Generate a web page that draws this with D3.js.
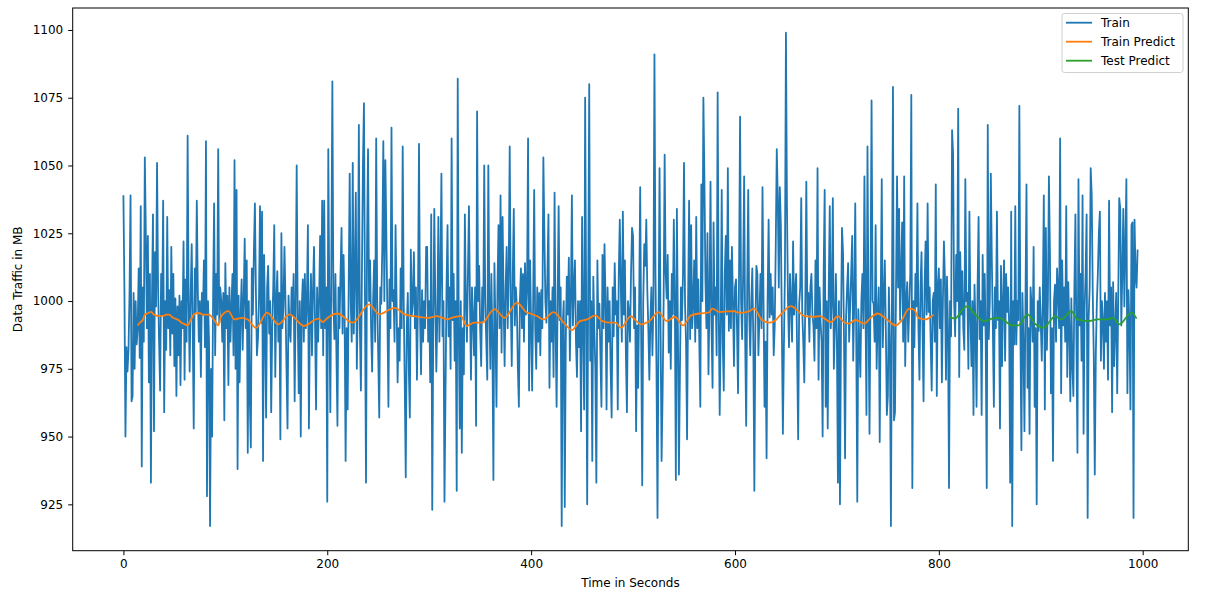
<!DOCTYPE html>
<html>
<head>
<meta charset="utf-8">
<script src="https://cdn.jsdelivr.net/npm/d3@7"></script>
<style>
  html, body { margin: 0; padding: 0; background: #fff; }
  svg { display: block; }
  text { font-family: "DejaVu Sans", sans-serif; fill: #000; }
</style>
</head>
<body>
<svg id="chart" width="1221" height="595"></svg>
<script>
// ---- data ----
const trainValues = [
1039,1004,950,983,974,982,1003,1039,963,965,
1003,975,1000,984,990,1012,979,1035,939,1005,
985,1053,1025,990,1024,970,1010,933,1000,1032,
952,1018,998,1051,1005,985,967,1010,995,1037,
959,1000,982,1031,990,1004,980,1020,988,1010,
976,1001,965,998,980,1002,969,1000,990,1022,
971,1008,985,1061,1000,974,1003,1021,990,953,
1012,996,1037,1004,985,1000,972,1003,995,1015,
983,1059,928,1000,985,917,975,950,1002,1036,
980,1010,995,1056,992,1005,
1000,985,1003,956,1014,990,1002,969,1005,985,
998,1010,980,1052,975,1041,938,1002,970,995,
1008,982,1000,1023,990,1015,944,1000,964,946,
1012,995,1018,1036,1003,980,986,1000,1035,992,
1033,941,1017,990,957,1005,1013,988,1000,959,
990,1005,1028,972,1000,1011,985,1003,949,1025,
990,998,1020,1000,975,953,1002,990,985,1005,
995,1010,963,1000,1050,995,966,1000,950,998,
1008,985,1010,990,1000,1028,953,995,1010,980,
1004,1020,992,960,1005,985,1000,1024,990,1037,
980,
1037,990,1005,926,1056,1000,959,1015,1081,1000,
986,1010,980,954,1005,990,1010,1027,988,1017,
995,941,990,960,1005,1047,1000,985,1051,988,
1010,1040,975,1000,1065,990,967,1010,1050,1073,
1000,933,1020,1056,1000,1015,990,974,1000,1015,
985,1060,1000,980,957,1005,999,1020,1059,1000,
1052,1024,995,961,1008,990,1064,1000,1004,985,
1028,1000,970,990,978,1012,990,1057,1000,970,
935,990,1003,975,957,1019,995,1000,1018,990,
1005,971,1000,1058,995,973,1004,985,1000,990,
1020,
1020,985,1000,970,1032,923,990,1034,1000,974,
995,1031,985,1010,1047,987,1000,926,966,1005,
1028,987,1005,975,1060,993,1010,978,1000,930,
1082,990,953,1000,944,990,973,1032,1000,985,
1010,1035,1000,971,1005,994,980,1005,954,1070,
1000,1013,990,976,1005,993,1050,1000,985,971,
1050,1000,975,1010,985,934,1014,990,961,1005,
1028,990,1039,981,1031,1000,976,1005,1020,990,
1010,1057,1000,976,1010,1034,991,1005,998,975,
961,1000,1012,990,1010,985,1014,995,1005,1060,
967,
1015,990,967,1000,1041,990,975,1005,985,1003,
980,1004,990,1053,1025,1000,992,1010,1032,968,
1000,985,1005,972,1040,990,961,1000,1035,993,
1005,917,991,1000,924,985,1009,995,1016,978,
1000,1039,991,1005,1015,985,972,1000,983,1000,
952,1031,990,960,1075,1000,925,1005,1080,978,
1000,941,1009,990,975,933,1015,990,999,980,
961,1017,990,1021,1000,960,1005,985,1000,975,
957,1005,987,1014,995,1000,960,1010,1030,1005,
985,1033,995,1015,980,959,1000,996,985,1010,
1027,
1024,990,1005,952,991,968,1000,1042,985,932,
1000,1021,1013,1030,1004,990,971,993,1005,980,
1000,1091,1010,975,920,990,1049,990,941,966,
1000,1054,1010,1001,1017,981,1000,975,1010,995,
1030,1000,934,1034,990,936,974,1005,993,1010,
1051,999,985,949,1000,1037,986,1028,990,999,
1015,985,1031,990,1008,985,961,1043,1000,1075,
1046,1008,990,1025,973,1000,1044,990,968,1029,
995,1005,980,1077,1000,958,990,1041,985,967,
1010,1024,995,1049,989,1015,990,1020,1000,976,
1005,
1008,990,966,1010,1068,1000,986,1010,1046,986,
954,1005,1041,995,980,1000,1012,985,930,990,
1013,1010,980,995,1010,990,1042,1000,961,985,
942,1000,1030,994,1010,995,1005,980,991,1020,
1056,1038,1005,1042,1028,990,951,983,1010,1099,
1035,1000,983,1010,999,985,1022,995,1003,1010,
980,949,999,1005,1038,996,985,970,1000,1044,
995,1003,985,1005,1010,995,991,978,1015,990,
1049,971,1005,992,985,950,1010,1041,961,1000,
953,1005,1035,990,1000,1038,975,990,1010,985,
933,
1000,925,990,1027,1018,985,942,994,1005,1014,
985,998,1010,1024,978,1000,1036,985,926,997,
985,972,1000,1010,990,1046,1000,958,1057,995,
951,1005,1074,1000,999,985,1028,975,994,1005,
948,1000,1045,983,1000,1015,990,958,965,1005,
985,917,1000,1079,956,959,1005,1046,1005,1034,
993,1010,1029,985,1046,976,1000,1007,985,998,
1010,1076,931,1000,983,1010,998,1036,990,971,
1005,1018,990,963,1005,1022,995,1036,996,1005,
985,967,1000,1003,985,1043,965,1005,1012,990,
1008,
970,1000,1022,1008,971,1009,990,931,1000,987,
1063,1054,1000,987,1017,1000,1071,972,1018,995,
1011,990,982,1045,1000,1003,975,1033,995,976,
1000,958,1006,990,961,1005,1031,986,1000,958,
1017,991,1010,985,931,1065,986,1000,1047,1015,
990,961,1005,990,1033,993,1000,953,1013,976,
1000,1015,978,1010,996,1005,991,933,1033,917,
1000,984,1035,984,1000,993,1072,990,945,1003,
985,952,1000,1043,968,990,951,1005,998,985,
1020,961,990,925,1000,989,1005,992,978,1000,
1039,
960,1027,982,1000,1046,1018,966,990,941,1000,
1006,985,1012,1003,990,1060,966,1015,991,1005,
985,1035,972,1007,990,963,1001,976,965,1005,
1032,985,944,1045,991,1010,978,1039,951,997,
1010,1032,920,994,1005,1049,1039,1003,980,936,
980,999,1010,1025,1033,978,1000,993,975,1003,
985,1000,971,1037,991,1005,959,1007,976,990,
1003,966,1000,1038,1034,991,1010,1034,998,1020,
1045,966,1004,990,960,1028,1029,920,1030,1010,
1005,1019
];

const trainPredictT = [14,16,19,21,24,27,30,33,36,39,42,45,48,51,54,57,60,63,66,69,72,75,78,81,84,87,90,93,
  96,103,109,116,122,130,141,152,163,177,191,196,
  197,210,225,241,251,266,276,285,
  298,308,318,322,331,337,344,352,364,374,386,396,
  399,406,412,422,432,440,448,455,463,470,478,483,488,498,
  500,508,516,525,533,541,549,557,565,574,578,585,592,600,
  601,608,614,619,626,634,640,645,655,662,668,676,683,688,694,701,
  702,707,712,718,727,733,740,748,758,763,771,776,780,787,794,795];
const trainPredictV = [991,992,993,995,995.5,996,995,994.5,994.5,994.5,995,995,994,993.5,993,992,991.5,991,993,995,995.5,995.5,995,995,995,994,992.5,991,
  994.4,996.3,993.2,993.8,993.2,990.1,995.7,991.4,995.1,990.8,993.5,992.2,
  992.6,995.4,992,998.8,995.1,997.5,995.1,994.4,
  993.8,994.4,993.2,993.8,994.4,990.8,992,992,997,993.8,999.4,995.7,
  995.4,994.4,993.2,995.9,992,989.3,992.6,993.2,994.7,992.6,992,992,990.1,994.4,
  993.8,991.4,992.6,995.9,992.6,994.2,991,994.7,995.4,995.7,997.2,995.9,996.2,996.3,
  995.9,995.7,996.3,997.2,993.2,992,993,995.1,998.1,996.3,994.4,994.2,994.4,993.5,992.2,994.4,
  994.2,992.2,991.7,993,991.7,993.8,995.4,993.5,991,992.6,997.2,996.7,993.8,993.2,994.7,995];

const testPredictT = [810,816,822,828,834,845,852,859,865,872,878,887,895,903,909,914,920,930,936,946,956,966,971,977,989,994];
const testPredictV = [994.2,993.5,996.3,998.1,995.7,992.6,993.5,993.8,992.6,991,991,995.1,991.4,990.1,992.6,994.4,993.2,996.3,993.2,992.6,993.2,993.2,993.8,991.4,995.7,993.5];

const xTicks = [0, 200, 400, 600, 800, 1000];
const yTicks = [925, 950, 975, 1000, 1025, 1050, 1075, 1100];
const seriesNames = ["Train", "Train Predict", "Test Predict"];
const seriesColors = ["#1f77b4", "#ff7f0e", "#2ca02c"];

// ---- layout ----
const W = 1221, H = 595;
const plot = { left: 72.7, right: 1188.3, top: 8, bottom: 550.7 };

const svg = d3.select("#chart");

const x = d3.scaleLinear().domain([-49.75, 1044.75]).range([plot.left, plot.right]);
const y = d3.scaleLinear().domain([907.9, 1108.1]).range([plot.bottom, plot.top]);

const clip = svg.append("defs").append("clipPath").attr("id", "clip")
  .append("rect").attr("x", plot.left).attr("y", plot.top)
  .attr("width", plot.right - plot.left).attr("height", plot.bottom - plot.top);

const g = svg.append("g").attr("clip-path", "url(#clip)");

const line = d3.line().x(d => x(d[0])).y(d => y(d[1]));

const trainData = trainValues.map((v, i) => [i, v]);
const trainPredData = trainPredictT.map((t, i) => [t, trainPredictV[i]]);
const testPredData = testPredictT.map((t, i) => [t, testPredictV[i]]);

g.append("path").datum(trainData).attr("d", line)
  .attr("fill", "none").attr("stroke", seriesColors[0]).attr("stroke-width", 1.8)
  .attr("stroke-linejoin", "round");
g.append("path").datum(trainPredData).attr("d", line.curve(d3.curveMonotoneX))
  .attr("fill", "none").attr("stroke", seriesColors[1]).attr("stroke-width", 1.8)
  .attr("stroke-linejoin", "round");
g.append("path").datum(testPredData).attr("d", line.curve(d3.curveMonotoneX))
  .attr("fill", "none").attr("stroke", seriesColors[2]).attr("stroke-width", 1.8)
  .attr("stroke-linejoin", "round");

// ---- axes ----
const fontSize = 12;
const xAxis = d3.axisBottom(x).tickValues(xTicks).tickFormat(d3.format("d"))
  .tickSize(4.5).tickSizeOuter(0).tickPadding(4);
const yAxis = d3.axisLeft(y).tickValues(yTicks).tickFormat(d3.format("d"))
  .tickSize(4.5).tickSizeOuter(0).tickPadding(5);

const gx = svg.append("g").attr("transform", `translate(0,${plot.bottom})`).call(xAxis);
const gy = svg.append("g").attr("transform", `translate(${plot.left},0)`).call(yAxis);
[gx, gy].forEach(a => {
  a.select(".domain").remove();
  a.selectAll(".tick line").attr("stroke", "#000").attr("stroke-width", 1);
  a.selectAll(".tick text").attr("font-family", "DejaVu Sans").attr("font-size", fontSize).attr("fill", "#000");
});

// frame (spines)
svg.append("rect").attr("x", plot.left).attr("y", plot.top)
  .attr("width", plot.right - plot.left).attr("height", plot.bottom - plot.top)
  .attr("fill", "none").attr("stroke", "#000").attr("stroke-width", 1);

// axis labels
svg.append("text").attr("x", (plot.left + plot.right) / 2).attr("y", 587)
  .attr("text-anchor", "middle").attr("font-size", fontSize).text("Time in Seconds");
svg.append("text")
  .attr("transform", `translate(22,${(plot.top + plot.bottom) / 2}) rotate(-90)`)
  .attr("text-anchor", "middle").attr("font-size", fontSize).text("Data Traffic in MB");

// ---- legend ----
const lg = svg.append("g");
lg.append("rect").attr("x", 1062).attr("y", 13.5).attr("width", 121).attr("height", 59)
  .attr("rx", 2.5).attr("fill", "#fff").attr("fill-opacity", 0.8)
  .attr("stroke", "#d0d0d0").attr("stroke-width", 1);
seriesNames.forEach((name, i) => {
  const cy = 22.7 + i * 19;
  lg.append("line").attr("x1", 1066).attr("x2", 1092).attr("y1", cy).attr("y2", cy)
    .attr("stroke", seriesColors[i]).attr("stroke-width", 1.8);
  lg.append("text").attr("x", 1101).attr("y", cy).attr("dy", "0.36em")
    .attr("font-size", fontSize).text(name);
});
</script>
</body>
</html>
